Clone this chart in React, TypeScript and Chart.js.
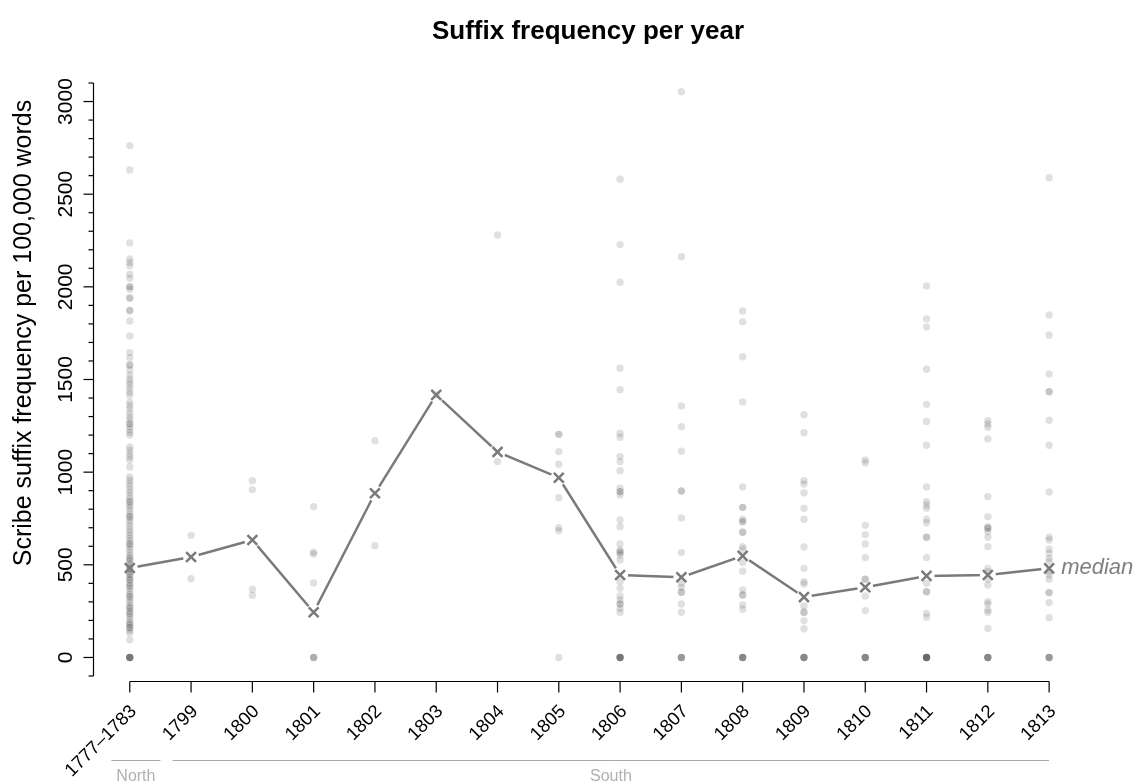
import React, { useEffect, useRef } from 'react';
import { Chart, registerables } from 'chart.js';

Chart.register(...registerables);

// ---------------- DATA ----------------
const CATEGORIES = ['1777–1783', '1799', '1800', '1801', '1802', '1803', '1804', '1805', '1806', '1807', '1808', '1809', '1810', '1811', '1812', '1813'];

const MEDIANS = [483, 542, 634, 244, 886, 1417, 1109, 970, 445, 433, 548, 326, 379, 440, 445, 481];

const DOTS_1777_1783 = [
  2762, 2631, 2237, 2150, 2132, 2114, 2068, 2046, 2001, 2001, 1987, 1940, 1940, 1872, 1872, 1816, 1735, 1645, 1618, 1578, 1578, 1551, 1524,
  1503, 1487, 1470, 1452, 1431, 1415,
  1378, 1360, 1342, 1320, 1301, 1284, 1262, 1262, 1245, 1230, 1214, 1200,
  1136, 1118, 1100, 1083, 1066, 1028,
  974, 958, 941, 925, 905, 890, 872, 855, 840, 838, 821, 807, 790, 772, 760, 758, 741, 725, 708, 690, 676, 660, 645, 630, 614, 612, 598, 583,
  566, 550, 537, 530, 520, 505, 492, 480, 478, 462, 450, 447, 433, 420, 418, 402, 388, 385, 372, 356, 342, 330, 325, 310, 296, 280, 270, 265,
  250, 240, 234, 220, 205, 190, 180, 175, 160, 160, 146, 132, 95,
  0, 0, 0, 0, 0, 0,
];
const DOTS_1799 = [659, 425];
const DOTS_1800 = [954, 906, 368, 336];
const DOTS_1801 = [814, 568, 559, 402, 0, 0, 0];
const DOTS_1802 = [1170, 603];
const DOTS_1803 = [1417];
const DOTS_1804 = [2280, 1057];
const DOTS_1805 = [1204, 1204, 1111, 1043, 862, 700, 684, 0];
const DOTS_1806 = [2581, 2228, 2025, 1561, 1445, 1210, 1188, 1084, 1057, 1008, 913, 895, 895, 877, 742, 706, 612, 580, 568, 568, 553, 526, 409, 373, 332, 310, 289, 289, 265, 244, 0, 0, 0, 0, 0, 0];
const DOTS_1807 = [3053, 2163, 1357, 1245, 1113, 898, 898, 753, 566, 400, 379, 352, 352, 289, 244, 0, 0, 0, 0];
const DOTS_1808 = [1870, 1811, 1623, 1379, 920, 810, 810, 746, 733, 733, 676, 676, 598, 584, 512, 465, 364, 337, 337, 283, 260, 0, 0, 0, 0, 0];
const DOTS_1809 = [1310, 1213, 954, 936, 889, 805, 746, 596, 481, 409, 397, 278, 244, 244, 199, 155, 0, 0, 0, 0, 0];
const DOTS_1810 = [1066, 1051, 713, 663, 612, 539, 422, 422, 332, 253, 0, 0, 0, 0, 0];
const DOTS_1811 = [2005, 1827, 1784, 1555, 1366, 1273, 1145, 920, 841, 823, 805, 746, 727, 649, 649, 539, 400, 355, 355, 238, 217, 0, 0, 0, 0, 0, 0, 0];
const DOTS_1812 = [1278, 1260, 1242, 1179, 868, 760, 706, 697, 697, 679, 649, 598, 481, 463, 422, 391, 301, 289, 256, 244, 157, 0, 0, 0, 0, 0];
const DOTS_1813 = [2589, 1848, 1739, 1530, 1434, 1434, 1280, 1145, 893, 649, 634, 584, 562, 535, 517, 463, 445, 422, 350, 350, 296, 215, 0, 0, 0, 0];

const DOTS = [
  DOTS_1777_1783, DOTS_1799, DOTS_1800, DOTS_1801, DOTS_1802, DOTS_1803, DOTS_1804, DOTS_1805,
  DOTS_1806, DOTS_1807, DOTS_1808, DOTS_1809, DOTS_1810, DOTS_1811, DOTS_1812, DOTS_1813,
];

const Y_TICK_LABELS = [0, 500, 1000, 1500, 2000, 2500, 3000];
const Y_MINOR_STEP = 100;
const Y_AXIS_MIN = -100;
const Y_AXIS_MAX = 3100;

const GROUP_LABELS = ['North', 'South'];
const GROUP_FROM = [-0.3, 0.7];
const GROUP_TO = [0.5, 15];

const TITLE = 'Suffix frequency per year';
const Y_TITLE = 'Scribe suffix frequency per 100,000 words';
const MEDIAN_LABEL = 'median';

// ---------------- STYLE ----------------
const FONT = '"Liberation Sans", Arial, Helvetica, sans-serif';
const LINE_GRAY = '#7a7a7a';

const rAxesPlugin = {
  id: 'rAxes',
  afterDraw(chart: any) {
    const ctx = chart.ctx as CanvasRenderingContext2D;
    const xs = chart.scales.x;
    const ys = chart.scales.y;
    const area = chart.chartArea;
    ctx.save();

    // Title
    ctx.fillStyle = '#000';
    ctx.font = `bold 26px ${FONT}`;
    ctx.textAlign = 'center';
    ctx.textBaseline = 'alphabetic';
    ctx.fillText(TITLE, 588, 38.5);

    // Y axis
    const axX = Math.round(area.left) + 0.5;
    ctx.strokeStyle = '#000';
    ctx.lineWidth = 1.2;
    ctx.beginPath();
    ctx.moveTo(axX, ys.getPixelForValue(Y_AXIS_MIN));
    ctx.lineTo(axX, ys.getPixelForValue(Y_AXIS_MAX));
    ctx.stroke();
    for (let v = Y_AXIS_MIN; v <= Y_AXIS_MAX; v += Y_MINOR_STEP) {
      const py = ys.getPixelForValue(v);
      const major = Y_TICK_LABELS.includes(v);
      ctx.beginPath();
      ctx.moveTo(axX, py);
      ctx.lineTo(axX - (major ? 10 : 5), py);
      ctx.stroke();
    }
    ctx.font = `21px ${FONT}`;
    ctx.textAlign = 'center';
    ctx.textBaseline = 'alphabetic';
    for (const v of Y_TICK_LABELS) {
      const py = ys.getPixelForValue(v);
      ctx.save();
      ctx.translate(axX - 21.5, py);
      ctx.rotate(-Math.PI / 2);
      ctx.fillText(String(v), 0, 0);
      ctx.restore();
    }
    // Y title
    ctx.font = `25px ${FONT}`;
    ctx.save();
    ctx.translate(31, 333);
    ctx.rotate(-Math.PI / 2);
    ctx.fillText(Y_TITLE, 0, 0);
    ctx.restore();

    // X axis
    const axY = Math.round(area.bottom) + 5.5;
    const x0 = xs.getPixelForValue(0);
    const x1 = xs.getPixelForValue(CATEGORIES.length - 1);
    ctx.beginPath();
    ctx.moveTo(x0, axY);
    ctx.lineTo(x1, axY);
    ctx.stroke();
    ctx.font = `18.5px ${FONT}`;
    ctx.textAlign = 'right';
    ctx.textBaseline = 'middle';
    CATEGORIES.forEach((c, i) => {
      const px = xs.getPixelForValue(i);
      ctx.beginPath();
      ctx.moveTo(px, axY);
      ctx.lineTo(px, axY + 11);
      ctx.stroke();
      ctx.save();
      ctx.translate(px + 4, axY + 27);
      ctx.rotate(-Math.PI / 4);
      ctx.fillText(c, 0, 0);
      ctx.restore();
    });

    // Group brackets
    ctx.strokeStyle = '#a8a8a8';
    ctx.lineWidth = 1;
    ctx.fillStyle = '#b0b0b0';
    ctx.font = `16px ${FONT}`;
    ctx.textAlign = 'center';
    ctx.textBaseline = 'alphabetic';
    GROUP_LABELS.forEach((g, i) => {
      const a = xs.getPixelForValue(GROUP_FROM[i]);
      const b = xs.getPixelForValue(GROUP_TO[i]);
      ctx.beginPath();
      ctx.moveTo(a, 760.5);
      ctx.lineTo(b, 760.5);
      ctx.stroke();
      ctx.fillText(g, (a + b) / 2, 781);
    });

    // Median label
    const last = CATEGORIES.length - 1;
    ctx.fillStyle = '#808080';
    ctx.font = `italic 22px ${FONT}`;
    ctx.textAlign = 'left';
    ctx.textBaseline = 'middle';
    ctx.fillText(MEDIAN_LABEL, xs.getPixelForValue(last) + 12, ys.getPixelForValue(MEDIANS[last]));

    ctx.restore();
  },
};

export default function App() {
  const ref = useRef<HTMLCanvasElement | null>(null);

  useEffect(() => {
    document.body.style.margin = '0';
    const canvas = ref.current;
    if (!canvas) return;

    const dotData = DOTS.flatMap((vals, i) => vals.map((v) => ({ x: i, y: v })));
    const medianData = MEDIANS.map((v, i) => ({ x: i, y: v }));

    const chart = new Chart(canvas, {
      type: 'scatter',
      data: {
        datasets: [
          {
            label: 'median markers',
            data: medianData,
            pointStyle: 'crossRot',
            pointRadius: 7,
            pointBorderWidth: 2.5,
            borderColor: LINE_GRAY,
            backgroundColor: LINE_GRAY,
            order: 0,
          },
          {
            label: 'scribes',
            data: dotData,
            pointStyle: 'circle',
            pointRadius: 3.7,
            pointBorderWidth: 0,
            backgroundColor: 'rgba(0,0,0,0.12)',
            borderColor: 'rgba(0,0,0,0)',
            order: 1,
          },
          {
            label: 'halo',
            data: medianData,
            pointStyle: 'circle',
            pointRadius: 8,
            pointBorderWidth: 0,
            backgroundColor: '#ffffff',
            borderColor: 'rgba(0,0,0,0)',
            order: 2,
          },
          {
            label: 'median',
            data: medianData,
            showLine: true,
            borderColor: LINE_GRAY,
            borderWidth: 2.5,
            pointRadius: 0,
            tension: 0,
            order: 3,
          },
        ],
      },
      options: {
        responsive: false,
        animation: false,
        devicePixelRatio: 1,
        events: [],
        layout: { padding: { left: 93, right: 36, top: 83, bottom: 107 } },
        scales: {
          x: { type: 'linear', min: -0.6, max: 15.83, display: false },
          y: { type: 'linear', min: Y_AXIS_MIN, max: Y_AXIS_MAX, display: false },
        },
        plugins: {
          legend: { display: false },
          tooltip: { enabled: false },
          title: { display: false },
        },
      },
      plugins: [rAxesPlugin],
    });

    return () => chart.destroy();
  }, []);

  return (
    <div style={{ width: 1136, height: 783, background: '#fff' }}>
      <canvas ref={ref} width={1136} height={783} style={{ display: 'block' }} />
    </div>
  );
}
